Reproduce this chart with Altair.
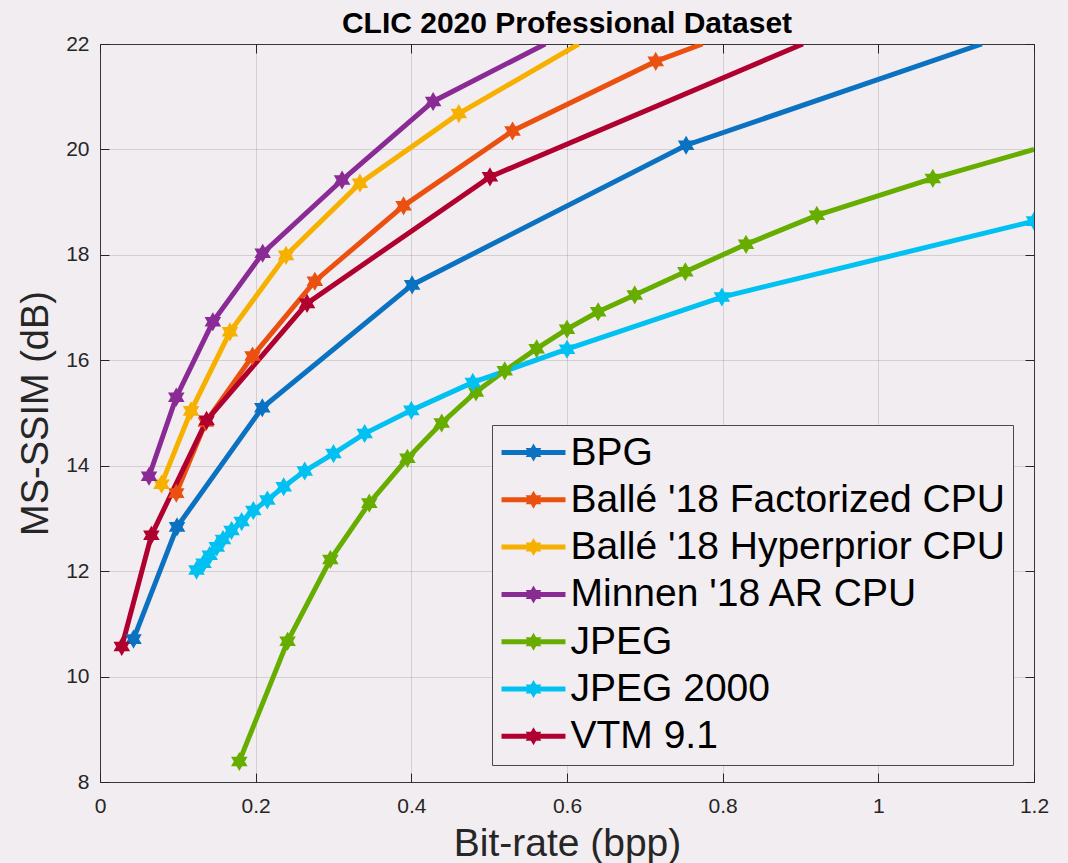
import altair as alt
import pandas as pd

# ---------------- data ----------------
SERIES = ["BPG", "Ballé '18 Factorized CPU", "Ballé '18 Hyperprior CPU",
          "Minnen '18 AR CPU", "JPEG", "JPEG 2000", "VTM 9.1"]
COLORS = ["#0b72c1", "#ea5110", "#f6b000", "#8a2b95", "#67ad00", "#00c1f1", "#b0002f"]

BPG_X = [0.043, 0.099, 0.2085, 0.401, 0.753]
BPG_Y = [10.71, 12.84, 15.10, 17.43, 20.08]
FACT_X = [0.098, 0.136, 0.196, 0.276, 0.390, 0.530, 0.714]
FACT_Y = [13.48, 14.83, 16.08, 17.50, 18.93, 20.35, 21.67]
HYPER_X = [0.079, 0.117, 0.167, 0.239, 0.334, 0.461]
HYPER_Y = [13.65, 15.04, 16.54, 17.99, 19.36, 20.68]
MINNEN_X = [0.063, 0.098, 0.145, 0.209, 0.311, 0.428]
MINNEN_Y = [13.80, 15.30, 16.73, 18.03, 19.42, 20.91]
JPEG_X = [0.179, 0.241, 0.296, 0.346, 0.395, 0.439, 0.483, 0.520, 0.561,
          0.600, 0.640, 0.687, 0.752, 0.830, 0.921, 1.070]
JPEG_Y = [8.39, 10.67, 12.22, 13.29, 14.14, 14.81, 15.40, 15.80, 16.22,
          16.59, 16.92, 17.24, 17.68, 18.20, 18.75, 19.45]
J2K_X = [0.124, 0.133, 0.141, 0.150, 0.158, 0.169, 0.182, 0.197, 0.215,
         0.236, 0.263, 0.300, 0.340, 0.400, 0.479, 0.600, 0.799, 1.200]
J2K_Y = [12.02, 12.15, 12.30, 12.46, 12.60, 12.77, 12.94, 13.15, 13.35,
         13.60, 13.90, 14.23, 14.61, 15.05, 15.58, 16.21, 17.20, 18.64]
VTM_X = [0.028, 0.066, 0.137, 0.266, 0.501]
VTM_Y = [10.57, 12.68, 14.86, 17.08, 19.48]

# where each curve leaves the axes frame (line continues, no marker visible)
EXIT_X = {"BPG": 1.133, "Ballé '18 Factorized CPU": 0.774, "Ballé '18 Hyperprior CPU": 0.615,
          "Minnen '18 AR CPU": 0.572, "JPEG": 1.2, "VTM 9.1": 0.903}
EXIT_Y = {"BPG": 22.0, "Ballé '18 Factorized CPU": 22.0, "Ballé '18 Hyperprior CPU": 22.0,
          "Minnen '18 AR CPU": 22.0, "JPEG": 20.0, "VTM 9.1": 22.0}

TICK_X = [0, 0.2, 0.4, 0.6, 0.8, 1.0, 1.2]
TICK_Y = [8, 10, 12, 14, 16, 18, 20, 22]

XS = [BPG_X, FACT_X, HYPER_X, MINNEN_X, JPEG_X, J2K_X, VTM_X]
YS = [BPG_Y, FACT_Y, HYPER_Y, MINNEN_Y, JPEG_Y, J2K_Y, VTM_Y]

line_rows, point_rows = [], []
for name, xs, ys in zip(SERIES, XS, YS):
    k = 0
    for x, y in zip(xs, ys):
        line_rows.append({"series": name, "x": x, "y": y, "k": k})
        point_rows.append({"series": name, "x": x, "y": y, "k": k})
        k += 1
    if name in EXIT_X:
        line_rows.append({"series": name, "x": EXIT_X[name], "y": EXIT_Y[name], "k": k})
lines_df = pd.DataFrame(line_rows)
points_df = pd.DataFrame(point_rows)

# ---------------- styling ----------------
BG = "#f2edf0"
AX = "#262626"
FONT = "Liberation Sans"
HEXAGRAM = "M0,-1L0.866,0.5L-0.866,0.5ZM0,1L-0.866,-0.5L0.866,-0.5Z"
LEG_SYMBOL = ("M-5.33,0H5.33M0,-0.67L0.58,0.33L-0.58,0.33Z"
              "M0,0.67L-0.58,-0.33L0.58,-0.33Z")

xscale = alt.Scale(domain=[0, 1.2], nice=False, zero=False)
yscale = alt.Scale(domain=[8, 22], nice=False, zero=False)
cscale = alt.Scale(domain=SERIES, range=COLORS)


def tick_axis(orient):
    return alt.Axis(orient=orient, values=TICK_X if orient in ("top", "bottom") else TICK_Y,
                    labels=False, domain=False, grid=False, ticks=True, tickSize=9,
                    offset=-9, tickColor=AX, tickWidth=1, title=None)


legend = alt.Legend(
    title=None, orient="none", legendX=392, legendY=381,
    symbolType=LEG_SYMBOL, symbolSize=144, symbolStrokeWidth=5,
    symbolFillColor=alt.ExprRef(expr="scale('color', datum.value)"),
    symbolOffset=14, labelOffset=17.5,
    labelFont=FONT, labelFontSize=39, labelColor="black", labelLimit=0,
    rowPadding=7.3, padding=8, strokeColor="#4a4a4a", fillColor=BG,
)

lines = alt.Chart(lines_df).mark_line(strokeWidth=5, clip=True).encode(
    x=alt.X("x:Q", scale=xscale,
            axis=alt.Axis(orient="bottom", values=TICK_X, format="~g", title="Bit-rate (bpp)",
                          grid=True, gridColor=AX, gridOpacity=0.15, ticks=False, domain=False,
                          labelFont=FONT, labelFontSize=21, labelColor=AX, labelPadding=13,
                          labelFlush=False, titleFont=FONT, titleFontSize=39,
                          titleFontWeight="normal", titleColor=AX, titlePadding=8)),
    y=alt.Y("y:Q", scale=yscale,
            axis=alt.Axis(orient="left", values=TICK_Y, format="~g", title="MS-SSIM (dB)",
                          grid=True, gridColor=AX, gridOpacity=0.15, ticks=False, domain=False,
                          labelFont=FONT, labelFontSize=21, labelColor=AX, labelPadding=11,
                          labelFlush=False, titleFont=FONT, titleFontSize=38,
                          titleFontWeight="normal", titleColor=AX, titlePadding=10)),
    color=alt.Color("series:N", scale=cscale, sort=SERIES, legend=legend),
    detail="series:N",
    order="k:Q",
)

points = alt.Chart(points_df).mark_point(
    shape=HEXAGRAM, size=260, filled=True, opacity=1, strokeWidth=1.5, clip=True
).encode(
    x=alt.X("x:Q", scale=xscale, axis=tick_axis("top")),
    y=alt.Y("y:Q", scale=yscale, axis=tick_axis("right")),
    color=alt.Color("series:N", scale=cscale, sort=SERIES, legend=None),
    stroke=alt.Color("series:N", scale=cscale, sort=SERIES, legend=None),
)

ghost = alt.Chart(points_df).mark_point(opacity=0).encode(
    x=alt.X("x:Q", scale=xscale, axis=tick_axis("bottom")),
    y=alt.Y("y:Q", scale=yscale, axis=tick_axis("left")),
)

chart = alt.layer(lines, points, ghost).resolve_axis(
    x="independent", y="independent"
).properties(
    width=934, height=738,
    autosize="none",
    padding={"left": 100, "top": 44, "right": 34, "bottom": 81},
    background=BG,
    title=alt.TitleParams("CLIC 2020 Professional Dataset", font=FONT, fontSize=30,
                          fontWeight="bold", color="black", anchor="middle",
                          baseline="alphabetic", offset=12, frame="group", dy=42),
).configure_view(stroke="#3a3a3a", strokeWidth=1, fill=BG)

chart.save("out.html", embed_options={"renderer": "svg", "actions": False})
